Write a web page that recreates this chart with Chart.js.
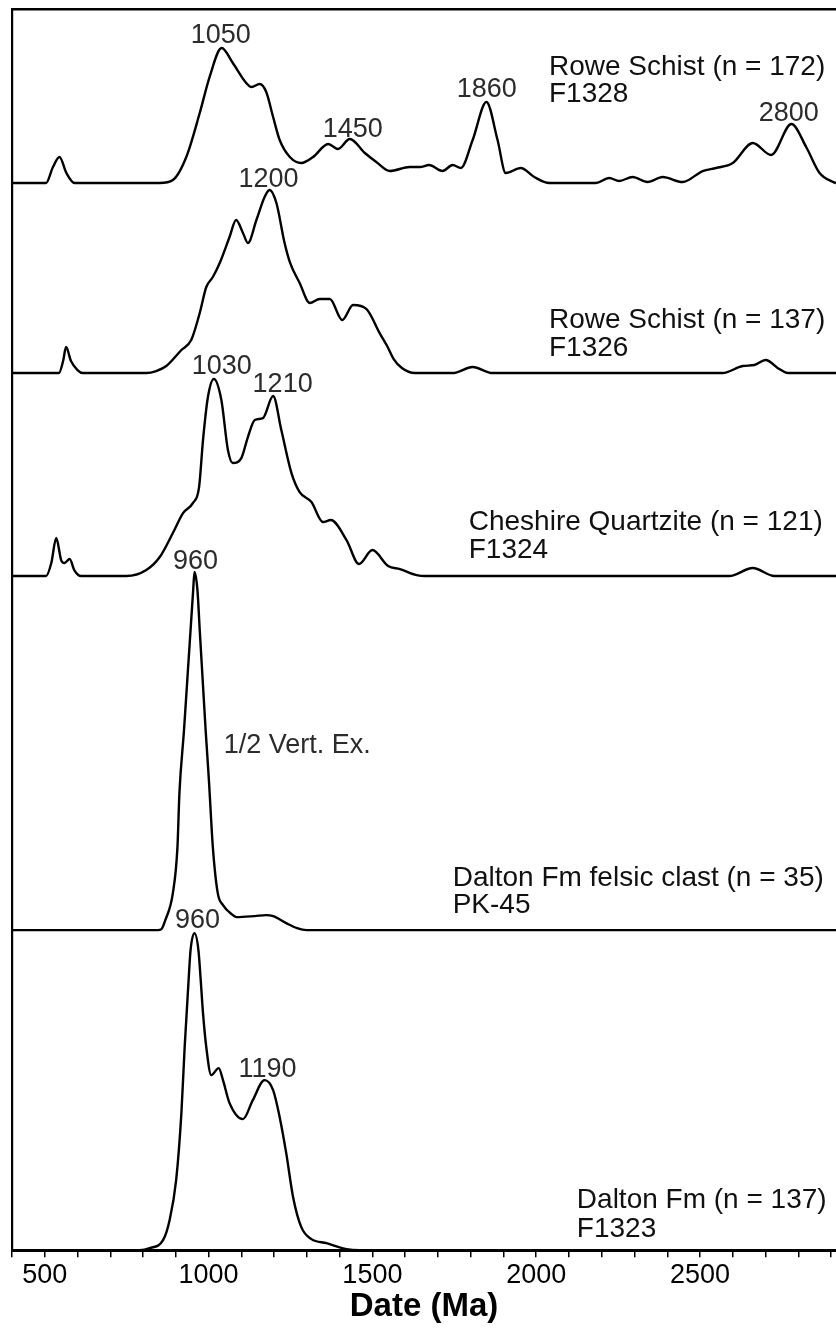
<!DOCTYPE html>
<html>
<head>
<meta charset="utf-8">
<title>Detrital zircon probability plots</title>
<script src="https://cdn.jsdelivr.net/npm/chart.js@4.4.1/dist/chart.umd.min.js"></script>
<style>
  html, body { margin: 0; padding: 0; background: #fff; }
  #wrap { width: 836px; height: 1329px; position: relative; }
</style>
</head>
<body>
<div id="wrap"><canvas id="pdp"></canvas></div>
<script>
// Age (Ma) and relative probability, one pair of arrays per sample
var ageF1328 = [400, 504, 525, 545, 566, 591, 851, 891, 932, 973, 1003, 1040, 1074, 1115, 1131, 1156, 1176, 1197, 1217, 1248,
    1283, 1319, 1365, 1395, 1431, 1477, 1512, 1553, 1614, 1645, 1673, 1714, 1745, 1770, 1806, 1848, 1882, 1907, 1953, 1994,
    2040, 2182, 2223, 2253, 2294, 2340, 2386, 2447, 2508, 2549, 2600, 2661, 2717, 2779, 2824, 2865, 2906, 2915];
var probF1328 = [0, 0, 16, 26, 10, 0, 0, 3, 26, 70, 106, 135, 120, 100, 96, 99, 91, 66, 43, 26,
    20, 26, 39, 34, 44, 30, 21, 12, 16, 16, 18, 12, 18, 15, 43, 81, 43, 10, 15, 6,
    0, 0, 5, 2, 6, 1, 6, 1, 12, 15, 20, 40, 28, 59, 36, 10, 1, 0];

var ageF1326 = [400, 543, 556, 565, 580, 600, 616, 810, 840, 871, 917, 947, 973, 993, 1013, 1034, 1064, 1084, 1105, 1120,
    1146, 1171, 1186, 1207, 1232, 1248, 1278, 1309, 1339, 1370, 1408, 1441, 1482, 1522, 1545, 1565, 1590, 1630, 1745, 1806,
    1867, 2569, 2630, 2666, 2700, 2742, 2768, 2915];
var probF1326 = [0, 0, 12, 26, 12, 3, 0, 0, 2, 7, 23, 33, 60, 86, 96, 110, 136, 153, 140, 130,
    153, 176, 183, 170, 130, 111, 90, 70, 74, 74, 53, 68, 64, 40, 27, 14, 5, 0, 0, 6,
    0, 0, 7, 8, 13, 4, 0, 0];

var ageF1324 = [400, 504, 520, 535, 550, 560, 576, 590, 611, 749, 810, 851, 891, 922, 952, 971, 983, 998, 1016, 1039,
    1059, 1074, 1100, 1120, 1141, 1166, 1197, 1222, 1253, 1278, 1314, 1349, 1373, 1421, 1459, 1500, 1548, 1584, 1635, 1660,
    2589, 2661, 2727, 2915];
var probF1324 = [0, 0, 13, 38, 16, 13, 17, 6, 0, 0, 6, 19, 43, 63, 73, 89, 136, 179, 197, 176,
    126, 113, 118, 139, 156, 158, 180, 146, 103, 84, 74, 54, 56, 36, 12, 26, 10, 7, 1, 0,
    0, 8, 0, 0];

// PK-45 is shown at half vertical exaggeration
var agePK45 = [400, 845, 856, 868, 891, 905, 911, 925, 935, 945, 953, 957, 966, 973, 982, 991, 1001, 1013, 1028, 1044,
    1074, 1085, 1140, 1176, 1197, 1237, 1270, 1299, 2915];
var probPK45 = [0, 0, 1, 10, 37, 83, 137, 200, 250, 300, 340, 358, 340, 300, 250, 200, 150, 83, 37, 25,
    15, 13, 14, 15, 14, 7, 2, 0, 0];

var ageF1323 = [400, 789, 820, 861, 881, 901, 917, 927, 939, 945, 957, 969, 976, 983, 993, 1008, 1031, 1044, 1064, 1105,
    1135, 1171, 1197, 1217, 1237, 1258, 1283, 1314, 1360, 1421, 1461, 2915];
var probF1323 = [0, 0, 2, 10, 30, 70, 137, 203, 270, 300, 317, 300, 270, 237, 203, 175, 182, 170, 147, 131,
    150, 170, 160, 133, 97, 53, 23, 11, 7, 1, 0, 0];

// sample captions
var sampleNames = ['Rowe Schist (n = 172)', 'Rowe Schist (n = 137)', 'Cheshire Quartzite (n = 121)',
    'Dalton Fm felsic clast (n = 35)', 'Dalton Fm (n = 137)'];
var sampleIds = ['F1328', 'F1326', 'F1324', 'PK-45', 'F1323'];

// peak ages written above the curves
var peakText = ['1050', '1450', '1860', '2800', '1200', '1030', '1210', '960', '960', '1190'];
var peakPanel = [0, 0, 0, 0, 1, 2, 2, 3, 3 + 1, 4];

// x axis ticks
var tickStep = 100;
var labelStep = 500;

var ages = [ageF1328, ageF1326, ageF1324, agePK45, ageF1323];
var probs = [probF1328, probF1326, probF1324, probPK45, probF1323];

// panel heights (in probability units, one panel per sample, top to bottom)
var panelSize = [174, 190, 203, 354, 320];

// where the captions sit, in data units (age, height above the panel baseline)
var peakAt = [[1037, 140], [1440, 46], [1849, 86], [2771, 62], [1183, 186], [1040, 202], [1226, 184], [960, 361], [966, 322], [1180, 173]];
var nameAt = [[2039, 108, 81], [2039, 45, 17], [1794, 46, 18], [1745, 44, 17], [2124, 42, 13]];
var noteAt = [1046, 177];

var FONT = '"Liberation Sans", Arial, Helvetica, sans-serif';

function buildPoints(xs, ys) {
    var pts = [];
    for (var i = 0; i < xs.length; i++) {
        pts.push({ x: xs[i], y: ys[i] });
    }
    return pts;
}

var datasets = [];
for (var s = 0; s < ages.length; s++) {
    datasets.push({
        label: sampleIds[s],
        data: buildPoints(ages[s], probs[s]),
        yAxisID: 'y' + s,
        borderColor: '#000',
        borderWidth: 2.4,
        pointRadius: 0,
        fill: false,
        cubicInterpolationMode: 'monotone',
        clip: false
    });
}

var scales = {
    x: {
        type: 'linear',
        position: 'bottom',
        min: 400,
        max: 2915,
        ticks: {
            stepSize: tickStep,
            includeBounds: false,
            autoSkip: false,
            maxRotation: 0,
            padding: 0,
            color: '#000',
            font: { family: FONT, size: 27, lineHeight: 1.35 },
            callback: function (v) { return v % labelStep === 0 ? String(v) : ''; }
        },
        grid: { display: true, drawOnChartArea: false, drawTicks: true, tickLength: 7, color: '#000', lineWidth: 1.5 },
        border: { display: true, color: '#000', width: 3 },
        title: {
            display: true,
            text: 'Date (Ma)',
            color: '#000',
            font: { family: FONT, size: 33, weight: 'bold', lineHeight: 0.8 },
            padding: { top: 0, bottom: 9 }
        }
    },
    xTop: {
        type: 'linear',
        position: 'top',
        min: 400,
        max: 2915,
        ticks: { display: false },
        grid: { display: true, drawOnChartArea: false, drawTicks: false },
        border: { display: true, color: '#000', width: 2.5 }
    }
};
panelSize.forEach(function (h, i) {
    scales['y' + i] = {
        type: 'linear',
        position: 'left',
        stack: 'pdp',
        stackWeight: h,
        weight: panelSize.length - i,
        min: 0,
        max: h,
        ticks: { display: false },
        grid: { display: true, drawOnChartArea: false, drawTicks: false },
        border: { display: true, color: '#000', width: 2.2 }
    };
});

var captionPlugin = {
    id: 'captions',
    afterDatasetsDraw: function (chart) {
        var ctx = chart.ctx;
        var xs = chart.scales.x;
        ctx.save();
        ctx.textBaseline = 'alphabetic';

        // peak ages
        ctx.fillStyle = '#2b2b2b';
        ctx.font = '27px ' + FONT;
        ctx.textAlign = 'center';
        for (var i = 0; i < peakText.length; i++) {
            var ys = chart.scales['y' + peakPanel[i]];
            ctx.fillText(peakText[i], xs.getPixelForValue(peakAt[i][0]), ys.getPixelForValue(peakAt[i][1]));
        }

        // sample names and numbers
        ctx.fillStyle = '#111';
        ctx.font = '28px ' + FONT;
        ctx.textAlign = 'left';
        for (var s = 0; s < sampleNames.length; s++) {
            var y = chart.scales['y' + s];
            var px = xs.getPixelForValue(nameAt[s][0]);
            ctx.fillText(sampleNames[s], px, y.getPixelForValue(nameAt[s][1]));
            ctx.fillText(sampleIds[s], px, y.getPixelForValue(nameAt[s][2]));
        }

        // vertical exaggeration note on the felsic clast
        ctx.fillStyle = '#2b2b2b';
        ctx.font = '27px ' + FONT;
        ctx.fillText('1/2 Vert. Ex.', xs.getPixelForValue(noteAt[0]), chart.scales.y3.getPixelForValue(noteAt[1]));
        ctx.restore();
    }
};

var myChart = new Chart(document.getElementById('pdp'), {
    type: 'line',
    data: { datasets: datasets },
    options: {
        responsive: true,
        maintainAspectRatio: false,
        animation: false,
        parsing: true,
        layout: { padding: { left: 12, right: 0, top: 9, bottom: 0 } },
        plugins: { legend: { display: false }, tooltip: { enabled: false } },
        scales: scales
    },
    plugins: [captionPlugin]
});
</script>
</body>
</html>
